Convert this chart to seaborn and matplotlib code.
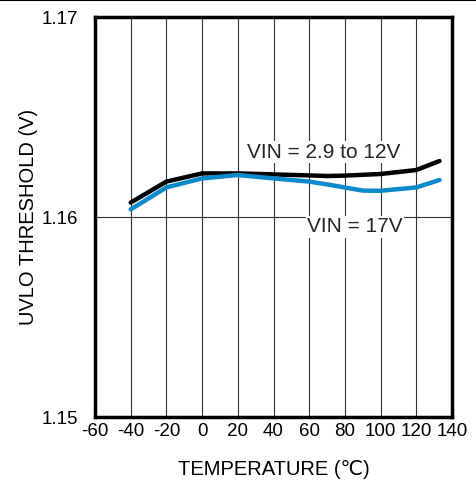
import matplotlib
matplotlib.use("Agg")
import matplotlib.pyplot as plt
import seaborn as sns
import pandas as pd

# Curve data
temp_low = [-40, -20, 0, 20, 40, 60, 70, 80, 100, 120, 133]
uvlo_low = [1.16072, 1.16177, 1.16218, 1.16218, 1.16213, 1.16208, 1.16205, 1.16207, 1.16215, 1.16235, 1.16280]

temp_high = [-40, -20, 0, 20, 40, 60, 70, 90, 100, 120, 133]
uvlo_high = [1.16038, 1.16148, 1.16193, 1.16210, 1.16193, 1.16177, 1.16163, 1.16132, 1.16131, 1.16148, 1.16185]

x_ticks = [-60, -40, -20, 0, 20, 40, 60, 80, 100, 120, 140]
y_ticks = [1.15, 1.16, 1.17]
y_tick_labels = ["1.15", "1.16", "1.17"]

label_low = "VIN = 2.9 to 12V"
label_high = "VIN = 17V"

sns.set_theme(style="white")
plt.rcParams["font.family"] = ["Liberation Sans", "DejaVu Sans"]

fig = plt.figure(figsize=(4.76, 4.87), dpi=100)
ax = fig.add_axes([95 / 476, 1 - 417 / 487, 357 / 476, 400 / 487])

df_low = pd.DataFrame({"temp": temp_low, "uvlo": uvlo_low})
df_high = pd.DataFrame({"temp": temp_high, "uvlo": uvlo_high})

sns.lineplot(data=df_low, x="temp", y="uvlo", color="black", linewidth=3.2, ax=ax, zorder=3)
sns.lineplot(data=df_high, x="temp", y="uvlo", color="#0b8ac9", linewidth=3.2, ax=ax, zorder=3)

ax.set_xlim(-60, 140)
ax.set_ylim(1.15, 1.17)
ax.set_xticks(x_ticks)
ax.set_xticklabels([str(t) for t in x_ticks])
ax.set_yticks(y_ticks)
ax.set_yticklabels(y_tick_labels)

ax.grid(True, color="#333333", linewidth=0.8)
ax.tick_params(axis="both", length=0, labelsize=13.5, colors="black")
ax.tick_params(axis="x", pad=4)
ax.tick_params(axis="y", pad=12)
for s in ax.spines.values():
    s.set_color("black")
    s.set_linewidth(2.5)

ax.set_xlabel("TEMPERATURE (℃)", fontsize=14.5, labelpad=15, color="black")
ax.set_ylabel("UVLO THRESHOLD (V)", fontsize=14.5, labelpad=3, color="black")

ax.text(25, 1.16325, label_low, fontsize=15, va="center", ha="left", zorder=4,
        bbox=dict(facecolor="white", edgecolor="none", pad=1))
ax.text(59, 1.1595, label_high, fontsize=15, va="center", ha="left", zorder=4,
        bbox=dict(facecolor="white", edgecolor="none", pad=1))

# thin rule across the top edge as in the reference
fig.add_artist(plt.Line2D([0, 1], [0.999, 0.999], color="black", linewidth=1.5, transform=fig.transFigure))

fig.savefig("out.png", dpi=100)
